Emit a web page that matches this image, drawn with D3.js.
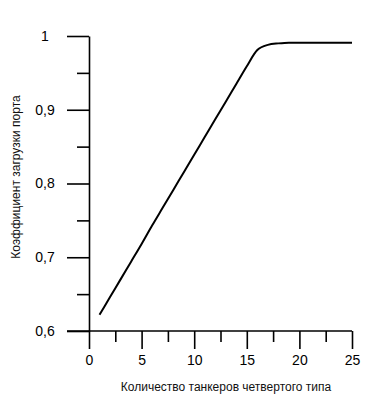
<!DOCTYPE html>
<html>
<head>
  <style type="text/css">
    body { margin: 0; background: #fff; }
    .axis text { font: 14px "Liberation Sans", Arial, sans-serif; fill: #000; }
    .axis path, .axis line { fill: none; stroke: #000; stroke-width: 1.6; }
    .title { font: 12px "Liberation Sans", Arial, sans-serif; fill: #111; }
    .line { fill: none; stroke: #000; stroke-width: 2; }
  </style>
</head>
<body>
  <div class="svg_container"></div>
  <script src="https://cdnjs.cloudflare.com/ajax/libs/d3/7.8.5/d3.min.js"></script>
  <script type="text/javascript">
    // tankers count and port load coefficient
    var tankers = [1, 2, 3, 4, 5, 6, 7, 8, 9, 10, 11, 12, 13, 14, 15, 16, 17, 18, 19, 20, 21, 22, 23, 24, 25];
    var load = [0.622, 0.646, 0.670, 0.694, 0.718, 0.743, 0.767, 0.791, 0.815, 0.839, 0.863, 0.887,
                0.911, 0.935, 0.959, 0.981, 0.988, 0.990, 0.991, 0.991, 0.991, 0.991, 0.991, 0.991, 0.991];
    var xMajor = [0, 5, 10, 15, 20, 25];
    var xMinor = [2.5, 7.5, 12.5, 17.5, 22.5];
    var yMajor = [0.6, 0.7, 0.8, 0.9, 1];
    var yMinor = [0.65, 0.75, 0.85, 0.95];
    var yLabels = ["0,6", "0,7", "0,8", "0,9", "1"];

    var margin = { top: 36, left: 89 },
      width = 263,
      height = 295;

    var x = d3.scaleLinear().domain([0, 25]).range([0, width]);
    var y = d3.scaleLinear().domain([0.6, 1]).range([height, 0]);

    var svg = d3.select(".svg_container").append("svg")
      .attr("width", 388)
      .attr("height", 408)
      .append("g")
      .attr("transform", "translate(" + margin.left + "," + margin.top + ")");

    // minor ticks
    svg.append("g")
      .attr("class", "axis")
      .attr("transform", "translate(0," + height + ")")
      .call(d3.axisBottom(x).tickValues(xMinor).tickSize(11).tickFormat(""))
      .select(".domain").remove();
    svg.append("g")
      .attr("class", "axis")
      .call(d3.axisLeft(y).tickValues(yMinor).tickSize(12).tickFormat(""))
      .select(".domain").remove();

    // x axis
    var xa = svg.append("g")
      .attr("class", "axis")
      .attr("transform", "translate(0," + height + ")")
      .call(d3.axisBottom(x).tickValues(xMajor).tickSize(18).tickSizeOuter(0).tickPadding(6));
    xa.select(".domain").attr("d", "M-22,0H" + width);

    // y axis
    var ya = svg.append("g")
      .attr("class", "axis")
      .call(d3.axisLeft(y).tickValues(yMajor).tickSize(22).tickSizeOuter(0)
        .tickFormat(function(d, i) { return yLabels[i]; }));
    ya.selectAll(".tick text").attr("x", -44).attr("text-anchor", "middle");

    // data line
    var line = d3.line()
      .x(function(d, i) { return x(tankers[i]); })
      .y(function(d) { return y(d); })
      .curve(d3.curveMonotoneX);
    svg.append("path")
      .datum(load)
      .attr("class", "line")
      .attr("d", line);

    // titles
    svg.append("text")
      .attr("class", "title")
      .attr("x", 137)
      .attr("y", 355)
      .attr("text-anchor", "middle")
      .text("Количество танкеров четвертого типа");
    svg.append("text")
      .attr("class", "title")
      .attr("transform", "translate(-69," + 141 + ") rotate(-90)")
      .attr("text-anchor", "middle")
      .text("Коэффициент загрузки порта");
  </script>
</body>
</html>
